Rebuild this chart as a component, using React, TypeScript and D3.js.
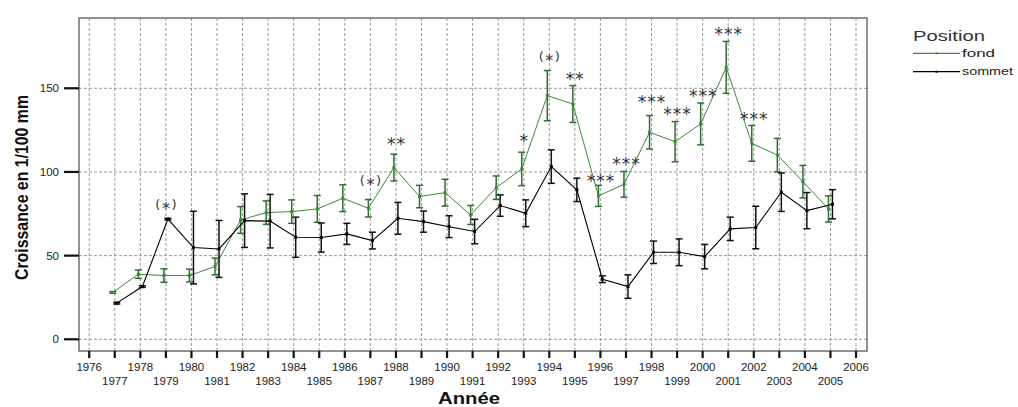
import React from 'react';
import * as d3 from 'd3';

// values
const years = [1977, 1978, 1979, 1980, 1981, 1982, 1983, 1984, 1985, 1986, 1987, 1988, 1989, 1990, 1991,
  1992, 1993, 1994, 1995, 1996, 1997, 1998, 1999, 2000, 2001, 2002, 2003, 2004, 2005];

const fondMean = [28, 38.9, 38.1, 38.1, 43.5, 71.3, 75.7, 76.3, 77.9, 84.3, 78.3, 102.6, 85.3, 87.6, 74.3,
  90.6, 101.8, 145.6, 140.6, 85.7, 92.6, 123.7, 118.1, 128.7, 162.5, 117.1, 110.1, 94.2, 77.9];
const fondErr = [0.5, 2.5, 4, 3.8, 5, 8, 7, 7, 8, 8, 5.2, 8, 6.7, 8, 5.7,
  7, 10, 15, 11, 6.3, 7.7, 10, 12, 12.5, 15.5, 10.7, 10, 9.7, 7.8];

const sommetMean = [21.6, 31.5, 71.8, 54.8, 54, 70.9, 70.6, 61, 60.8, 63, 59, 72.3, 70.3, 67.3, 64.4,
  79.9, 75.3, 103.2, 89.3, 35.9, 31.5, 52, 52, 49.4, 66, 66.8, 87.9, 76.9, 80.7];
const sommetErr = [0.5, 0.5, 0.5, 21.7, 17, 16, 16, 12, 8.7, 6.3, 5, 9.5, 6.3, 6.5, 7.3,
  6.4, 8, 10, 7, 2, 7, 6.7, 8, 7.3, 7, 12.7, 11.5, 10.8, 8.7];

// significance marks: year, label, height (data units) of the text baseline
const starYears = [1979, 1987, 1988, 1993, 1994, 1995, 1996, 1997, 1998, 1999, 2000, 2001, 2002];
const starLabels = ['(*)', '(*)', '**', '*', '(*)', '**', '***', '***', '***', '***', '***', '***', '***'];
const starLevels = [77.6, 92.1, 114.6, 116.2, 166.3, 153.4, 92.1, 102.1, 139.5, 132.5, 143.1, 180.3, 129];

const xTicks = d3.range(1976, 2007);
const yTicks = [0, 50, 100, 150];

const W = 1018;
const H = 407;
const left = 79, right = 867, top = 18, bottom = 351;

const GREEN = '#3d8a3d';
const GREEN_BAR = '#2f6e2f';

const x = d3.scaleLinear().domain([1975.6, 2006.43]).range([left, right]);
const y = d3.scaleLinear().domain([-7, 192]).range([bottom, top]);

const series = [
  { name: 'fond', mean: fondMean, err: fondErr, color: GREEN, barColor: GREEN_BAR, dx: -2, width: 1 },
  { name: 'sommet', mean: sommetMean, err: sommetErr, color: '#000', barColor: '#111', dx: 2, width: 1.1 },
];

const font = '"Liberation Sans", Arial, sans-serif';
const starFont = '"DejaVu Sans", sans-serif';

function StarLabel({ label, cx, by }: { label: string; cx: number; by: number }) {
  if (label.startsWith('(')) {
    return (
      <text x={cx + 0.8} y={by} textAnchor="middle" fontFamily={starFont} fill="#333" letterSpacing={1.5}>
        <tspan fontSize={13}>(</tspan>
        <tspan fontSize={16} dy={5}>*</tspan>
        <tspan fontSize={13} dy={-5}>)</tspan>
      </text>
    );
  }
  return (
    <text x={cx + 0.5} y={by + 2} textAnchor="middle" fontFamily={starFont} fontSize={17} fill="#333"
      letterSpacing={1}>{label}</text>
  );
}

export default function App() {
  return (
    <svg width={W} height={H} style={{ position: 'absolute', left: 0, top: 0, background: '#fff' }} fontFamily={font}>
      {/* grid */}
      <g stroke="#9a9a9a" strokeWidth={1} strokeDasharray="3,2">
        {xTicks.map(t => (
          <line key={'gx' + t} x1={x(t)} x2={x(t)} y1={top} y2={bottom} />
        ))}
        {yTicks.map(t => (
          <line key={'gy' + t} x1={left} x2={right} y1={y(t)} y2={y(t)} />
        ))}
      </g>
      <rect x={left} y={top} width={right - left} height={bottom - top} fill="none" stroke="#6e6e6e" strokeWidth={1.5} />

      {/* x axis */}
      <g>
        {xTicks.map((t, i) => (
          <g key={'xt' + t}>
            <line x1={x(t)} x2={x(t)} y1={bottom} y2={bottom + 7} stroke="#111" strokeWidth={2.2} />
            <text x={x(t)} y={i % 2 === 0 ? 371 : 384.5} textAnchor="middle" fontSize={11.5} fill="#222">{t}</text>
          </g>
        ))}
      </g>
      {/* y axis */}
      <g>
        {yTicks.map(t => (
          <g key={'yt' + t}>
            <line x1={left - 15} x2={left} y1={y(t)} y2={y(t)} stroke="#111" strokeWidth={2.2} />
            <text x={59} y={y(t) + 4} textAnchor="end" fontSize={11.5} fill="#222">{t}</text>
          </g>
        ))}
      </g>

      <text transform={`translate(28, ${(top + bottom) / 2 + 3}) rotate(-90)`} textAnchor="middle" fontSize={17.5}
        fontWeight="bold" fill="#111" textLength={185} lengthAdjust="spacingAndGlyphs">Croissance en 1/100 mm</text>
      <text x={469} y={404} textAnchor="middle" fontSize={16} fontWeight="bold" fill="#111"
        textLength={62} lengthAdjust="spacingAndGlyphs">Année</text>

      {/* series */}
      {series.map(s => {
        const line = d3.line<number>()
          .x((_, i) => x(years[i]) + s.dx)
          .y(d => y(d));
        return (
          <g key={s.name}>
            <path d={line(s.mean) || ''} fill="none" stroke={s.color} strokeWidth={s.width} />
            {s.mean.map((m, i) => {
              const cx = x(years[i]) + s.dx;
              const lo = y(m - s.err[i]);
              const hi = y(m + s.err[i]);
              return (
                <g key={i} stroke={s.barColor} strokeWidth={1.5}>
                  <line x1={cx} x2={cx} y1={lo} y2={hi} />
                  <line x1={cx - 3.5} x2={cx + 3.5} y1={lo} y2={lo} />
                  <line x1={cx - 3.5} x2={cx + 3.5} y1={hi} y2={hi} />
                  <rect x={cx - 1.5} y={y(m) - 1.5} width={3} height={3} fill={s.color} stroke="none" />
                </g>
              );
            })}
          </g>
        );
      })}

      {/* significance */}
      {starYears.map((yr, i) => (
        <StarLabel key={'s' + i} label={starLabels[i]} cx={x(yr)} by={y(starLevels[i])} />
      ))}

      {/* legend */}
      <g>
        <text x={913} y={40.7} fontSize={15} fill="#333" textLength={72} lengthAdjust="spacingAndGlyphs">Position</text>
        {series.map((s, i) => {
          const ly = 53.3 + i * 18.4;
          return (
            <g key={'lg' + s.name}>
              <line x1={913} x2={960} y1={ly} y2={ly} stroke={s.color} strokeWidth={1.2} />
              <rect x={935.5} y={ly - 1} width={2} height={2} fill={s.color} />
              <text x={962} y={ly + 3.6} fontSize={11} fill="#222" textLength={i === 0 ? 33 : 51}
                lengthAdjust="spacingAndGlyphs">{s.name}</text>
            </g>
          );
        })}
      </g>
    </svg>
  );
}
